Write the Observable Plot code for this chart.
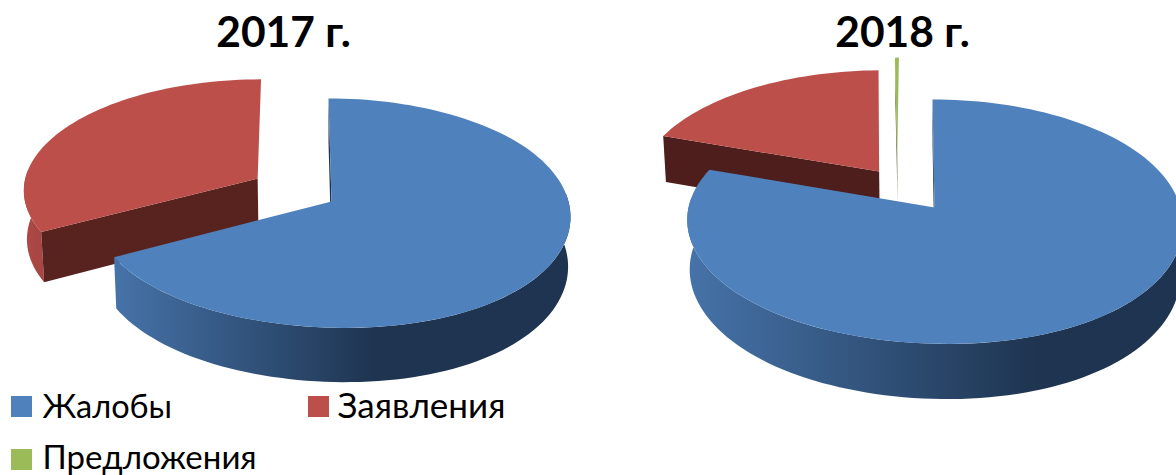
<!DOCTYPE html>
<html><head><meta charset="utf-8">
<script src="https://cdn.jsdelivr.net/npm/d3@7"></script>
<script src="https://cdn.jsdelivr.net/npm/@observablehq/plot@0.6"></script>
<style>html,body{margin:0;padding:0;background:#fff;overflow:hidden}svg{display:block}</style>
</head><body><div id="chart"></div>
<script>
// Data
const categories = ["Жалобы", "Заявления", "Предложения"];
const years = ["2017 г.", "2018 г."];
const values2017 = [67.2, 32.8, 0];
const values2018 = [80.3, 19.4, 0.3];

// Style
const topColors = ["#4f81bd", "#bd4f4b", "#9bbb59"];
const wallLight = ["#4673a9", "#b24a46", "#8aa84e"];
const wallDark = ["#1e3450", "#a84643", "#4f6228"];
const cutColors = ["#1e3450", "#58231f", "#4f6228"];
const FONT = "Lato, 'Noto Sans', sans-serif";

// Layout of the two tilted discs (perspective projection of a unit disc)
const discs = [
  {values: values2017, ax: 331, ay: 201, rx: 237, ry: 113, k: 0.0965, skew: -3.3, depth: 49, darkAt: 0.575,
   offsets: [[0, 0], [-0.315, 0.207], [0, 0]], cutRed: "#58231f", titleX: 283},
  {values: values2018, ax: 934, ay: 207, rx: 246, ry: 120, k: 0.111, skew: -2.2, depth: 49, darkAt: 0.71,
   offsets: [[0, 0], [-0.23, 0.31], [-0.155, 0.45]], cutRed: "#4d1e1c", titleX: 902}
];
const paintOrder = [1, 2, 0]; // back slices first
const STEP = Math.PI / 90;
const DEG = Math.PI / 180;
const WALL_FROM = 85 * DEG, WALL_TO = 275 * DEG; // part of the rim facing the viewer
const BULGE = 0.035, BULGE_FROM = 55 * DEG, BULGE_TO = 205 * DEG; // lower right rim is a little fuller than an ellipse

function project(d, X, Y, lower) {
  const w = 1 + d.k * Y, f = lower ? 0.99 : 1;
  return {
    x: d.ax + f * (d.rx * X + d.skew * Y) / w,
    y: d.ay - d.ry * Y / w + (lower ? d.depth / w : 0)
  };
}

const polys = [];
const gradients = [];
let nextId = 0;
function addPoly(points, fill) {
  const id = nextId++;
  points.forEach(p => polys.push({x: p.x, y: p.y, id, fill}));
}
const arcAngles = (a, b) => {
  const n = Math.max(1, Math.ceil((b - a) / STEP));
  return d3.range(n + 1).map(j => a + (b - a) * j / n);
};
const bulge = a => (a > BULGE_FROM && a < BULGE_TO)
  ? BULGE * Math.sin((a - BULGE_FROM) / (BULGE_TO - BULGE_FROM) * Math.PI) ** 2 : 0;

discs.forEach((d, di) => {
  const total = d3.sum(d.values);
  const bounds = [];
  let acc = 0;
  d.values.forEach(v => { bounds.push([acc / total * 2 * Math.PI, (acc + v) / total * 2 * Math.PI]); acc += v; });
  for (const i of paintOrder) {
    if (d.values[i] <= 0) continue;
    const [a0, a1] = bounds[i], [ox, oy] = d.offsets[i];
    const rim = (a, lower) => project(d, ox + Math.sin(a), oy + Math.cos(a) - bulge(a), lower);
    // outer wall, shaded left to right by a gradient
    const w0 = Math.max(a0, WALL_FROM), w1 = Math.min(a1, WALL_TO);
    if (w1 > w0) {
      const gid = `wall-${di}-${i}`;
      gradients.push({id: gid, light: wallLight[i], dark: wallDark[i], at: d.darkAt});
      const aw = arcAngles(w0, w1);
      addPoly([...aw.map(a => rim(a)), ...aw.slice().reverse().map(a => rim(a, true))], `url(#${gid})`);
    }
    // cut face at the start angle of the slice (the only one in view)
    addPoly([project(d, ox, oy), rim(a0), rim(a0, true), project(d, ox, oy, true)], i === 1 ? d.cutRed : cutColors[i]);
    // top face
    addPoly([project(d, ox, oy), ...arcAngles(a0, a1).map(a => rim(a))], topColors[i]);
  }
});

function gradientDefs() {
  const defs = d3.create("svg:defs");
  for (const g of gradients) {
    const lg = defs.append("linearGradient").attr("id", g.id).attr("x1", 0).attr("x2", 1).attr("y1", 0).attr("y2", 0);
    lg.append("stop").attr("offset", 0).attr("stop-color", g.light);
    lg.append("stop").attr("offset", g.at).attr("stop-color", g.dark);
    lg.append("stop").attr("offset", 1).attr("stop-color", g.dark);
  }
  return defs.node();
}

const titleRows = years.map((t, i) => ({t, x: discs[i].titleX, y: 47}));
const legendRows = [
  {name: categories[0], x: 11, y: 396, textX: 42, textY: 418, color: topColors[0], size: 32.5},
  {name: categories[1], x: 308, y: 396, textX: 337, textY: 418, color: topColors[1], size: 35},
  {name: categories[2], x: 11, y: 449, textX: 42, textY: 469.5, color: topColors[2], size: 33}
];

const chart = Plot.plot({
  width: 1176, height: 475, margin: 0,
  x: {domain: [0, 1176], range: [0, 1176], axis: null},
  y: {domain: [0, 475], range: [0, 475], axis: null},
  color: {type: "identity"},
  marks: [
    gradientDefs,
    Plot.line(polys, {x: "x", y: "y", z: "id", fill: d => d.fill, stroke: null, strokeWidth: 0}),
    Plot.text(titleRows, {x: "x", y: "y", text: "t", fontSize: 42.5, fontWeight: 700, fill: "#000", fontFamily: FONT, textAnchor: "middle", lineAnchor: "bottom", dy: -1}),
    Plot.rect(legendRows, {x1: "x", x2: d => d.x + 21, y1: "y", y2: d => d.y + 21, fill: "color"}),
    Plot.text(legendRows, {x: "textX", y: "textY", text: "name", fontSize: "size", fill: "#000", fontFamily: FONT, textAnchor: "start", lineAnchor: "bottom", dy: -1})
  ]
});
document.getElementById("chart").appendChild(chart);
</script>
</body></html>
